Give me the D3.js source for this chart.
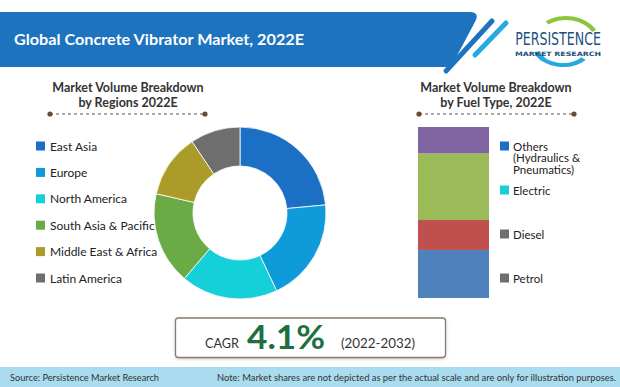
<!DOCTYPE html>
<html>
<head>
<meta charset="utf-8">
<script src="https://cdnjs.cloudflare.com/ajax/libs/d3/7.8.5/d3.min.js"></script>
<style>
  body { margin: 0; background: #fff; }
  svg { display: block; font-family: Lato, "Open Sans", sans-serif; }
</style>
</head>
<body>
<div id="chart"></div>
<script>
// data
var regions = ["East Asia", "Europe", "North America", "South Asia & Pacific", "Middle East & Africa", "Latin America"];
var regionShare = [23.5, 19.5, 18.2, 17.4, 12.0, 9.4];
var regionColors = ["#1b6fc4", "#0f9ad9", "#16d0d9", "#6bab46", "#ab9c2a", "#6e6e6e"];

// fuel type, stacked bottom to top
var fuelTypes = ["Petrol", "Diesel", "Electric", "Others"];
var fuelShare = [28.1, 17.5, 39.0, 15.4];
var fuelColors = ["#4f81bd", "#c0504d", "#9bbb59", "#8064a2"];

// legend on the right (top to bottom), as drawn in the picture
var fuelLegend = [["Others", "(Hydraulics &", "Pneumatics)"], ["Electric"], ["Diesel"], ["Petrol"]];
var fuelLegendColors = ["#1b6fc4", "#16d0d9", "#6e6e6e", "#6e6e6e"];

var cagr = "4.1%";
var cagrPeriod = "(2022-2032)";

var W = 620, H = 387;
var svg = d3.select("#chart").append("svg")
  .attr("width", W)
  .attr("height", H);

// header band
svg.append("path")
  .attr("d", "M0,12 H470 Q479,12 476,20 L451,67 H0 Z")
  .attr("fill", "#1e73be");
svg.append("line")
  .attr("x1", 492).attr("y1", 21).attr("x2", 446).attr("y2", 71)
  .attr("stroke", "#1e73be").attr("stroke-width", 5).attr("stroke-linecap", "round");
svg.append("line")
  .attr("x1", 506).attr("y1", 23).attr("x2", 475).attr("y2", 55)
  .attr("stroke", "#2aa9e1").attr("stroke-width", 5).attr("stroke-linecap", "round");

svg.append("text")
  .attr("x", 14).attr("y", 45)
  .attr("fill", "#fff")
  .attr("font-size", 15).attr("font-weight", 700)
  .attr("textLength", 290).attr("lengthAdjust", "spacingAndGlyphs")
  .text("Global Concrete Vibrator Market, 2022E");

// logo
var swoosh = d3.arc();
svg.append("path")
  .attr("transform", "translate(566,46) scale(1.2,1)")
  .attr("d", swoosh({innerRadius: 26, outerRadius: 30, startAngle: -0.6, endAngle: 1.0}))
  .attr("fill", "#8cc63f");
svg.append("path")
  .attr("transform", "translate(563,46) scale(1.45,1)")
  .attr("d", swoosh({innerRadius: 17, outerRadius: 21, startAngle: 2.3, endAngle: 4.4}))
  .attr("fill", "#29a8e0");
svg.append("text")
  .attr("transform", "translate(558,45) scale(1,1.25)")
  .attr("text-anchor", "middle")
  .attr("fill", "#1d4f7c")
  .attr("font-family", "'Liberation Sans Narrow', 'DejaVu Sans Condensed', sans-serif")
  .attr("font-size", 14)
  .text("PERSISTENCE");
svg.append("text")
  .attr("x", 558).attr("y", 56)
  .attr("text-anchor", "middle")
  .attr("fill", "#1d4f7c")
  .attr("font-family", "'DejaVu Sans', sans-serif")
  .attr("font-size", 6).attr("font-weight", 700)
  .attr("textLength", 86).attr("lengthAdjust", "spacingAndGlyphs")
  .text("MARKET RESEARCH");

// section titles with dashed rule
function sectionTitle(cx, lines, x1, x2) {
  var g = svg.append("g");
  lines.forEach(function (t, i) {
    g.append("text")
      .attr("x", cx).attr("y", 92 + i * 15)
      .attr("text-anchor", "middle")
      .attr("fill", "#333")
      .attr("font-size", 12.5).attr("font-weight", 700)
      .text(t);
  });
  g.append("line")
    .attr("x1", x1).attr("x2", x2).attr("y1", 114).attr("y2", 114)
    .attr("stroke", "#555").attr("stroke-dasharray", "3,3");
  [x1, x2].forEach(function (x) {
    g.append("circle").attr("cx", x).attr("cy", 114).attr("r", 2.6).attr("fill", "#6b4a32");
  });
}
sectionTitle(128, ["Market Volume Breakdown", "by Regions 2022E"], 50, 205);
sectionTitle(496, ["Market Volume Breakdown", "by Fuel Type, 2022E"], 419, 574);

// donut
var pie = d3.pie().sort(null).value(function (d) { return d; });
var arc = d3.arc().innerRadius(47).outerRadius(86);
var donut = svg.append("g").attr("transform", "translate(240,213)");
donut.selectAll("path")
  .data(pie(regionShare))
  .join("path")
  .attr("d", arc)
  .attr("fill", function (d, i) { return regionColors[i]; })
  .attr("stroke", "#fff")
  .attr("stroke-width", 0.8);

// region legend
var legY = d3.scalePoint().domain(regions).range([146, 278]);
var leg = svg.append("g");
leg.selectAll("rect")
  .data(regions)
  .join("rect")
  .attr("x", 36).attr("y", function (d) { return legY(d) - 4.5; })
  .attr("width", 9).attr("height", 9)
  .attr("fill", function (d, i) { return regionColors[i]; });
leg.selectAll("text")
  .data(regions)
  .join("text")
  .attr("x", 50).attr("y", function (d) { return legY(d) + 4.5; })
  .attr("fill", "#222")
  .attr("font-size", 12)
  .text(function (d) { return d; });

// stacked bar
var y = d3.scaleLinear().domain([0, d3.sum(fuelShare)]).range([298, 127]);
var x = d3.scaleBand().domain(["fuel"]).range([418, 489]);
var stackData = [];
var acc = 0;
fuelShare.forEach(function (v, i) {
  stackData.push({ name: fuelTypes[i], y0: acc, y1: acc + v, color: fuelColors[i] });
  acc += v;
});
svg.append("g").selectAll("rect")
  .data(stackData)
  .join("rect")
  .attr("x", x("fuel"))
  .attr("width", x.bandwidth())
  .attr("y", function (d) { return y(d.y1); })
  .attr("height", function (d) { return y(d.y0) - y(d.y1); })
  .attr("fill", function (d) { return d.color; });

// fuel legend
var fuelLegY = [146, 190, 234, 278];
var fl = svg.append("g");
fuelLegend.forEach(function (lines, i) {
  fl.append("rect")
    .attr("x", 500).attr("y", fuelLegY[i] - 4.5)
    .attr("width", 9).attr("height", 9)
    .attr("fill", fuelLegendColors[i]);
  lines.forEach(function (l, j) {
    fl.append("text")
      .attr("x", 513).attr("y", fuelLegY[i] + 4.5 + j * 11.5)
      .attr("fill", "#222").attr("font-size", 11.5)
      .text(l);
  });
});

// CAGR box
var defs = svg.append("defs");
var f = defs.append("filter").attr("id", "shadow").attr("x", "-10%").attr("y", "-30%").attr("width", "120%").attr("height", "160%");
f.append("feDropShadow").attr("dx", 0).attr("dy", 1).attr("stdDeviation", 1.5).attr("flood-color", "#999").attr("flood-opacity", 0.5);
svg.append("rect")
  .attr("x", 175.5).attr("y", 318).attr("width", 270).attr("height", 39.5)
  .attr("rx", 3)
  .attr("fill", "#fff")
  .attr("stroke", "#8a7b6c").attr("stroke-width", 1.3)
  .attr("filter", "url(#shadow)");
svg.append("text")
  .attr("x", 205).attr("y", 347.5)
  .attr("fill", "#333").attr("font-size", 13.5)
  .attr("textLength", 34).attr("lengthAdjust", "spacingAndGlyphs")
  .text("CAGR");
svg.append("text")
  .attr("x", 247).attr("y", 349)
  .attr("fill", "#1e7040").attr("font-size", 33).attr("font-weight", 700)
  .attr("textLength", 78).attr("lengthAdjust", "spacingAndGlyphs")
  .text(cagr);
svg.append("text")
  .attr("x", 341).attr("y", 347.5)
  .attr("fill", "#333").attr("font-size", 14)
  .attr("textLength", 74).attr("lengthAdjust", "spacingAndGlyphs")
  .text(cagrPeriod);

// footer
svg.append("rect")
  .attr("x", 0).attr("y", 367).attr("width", W).attr("height", 20)
  .attr("fill", "#aadcef");
svg.append("text")
  .attr("x", 10).attr("y", 381)
  .attr("fill", "#333").attr("font-size", 9.5)
  .attr("textLength", 149).attr("lengthAdjust", "spacingAndGlyphs")
  .text("Source: Persistence Market Research");
svg.append("text")
  .attr("x", 217).attr("y", 381)
  .attr("fill", "#333").attr("font-size", 9)
  .attr("textLength", 399).attr("lengthAdjust", "spacingAndGlyphs")
  .text("Note: Market shares are not depicted as per the actual scale and are only for illustration purposes.");
</script>
</body>
</html>
